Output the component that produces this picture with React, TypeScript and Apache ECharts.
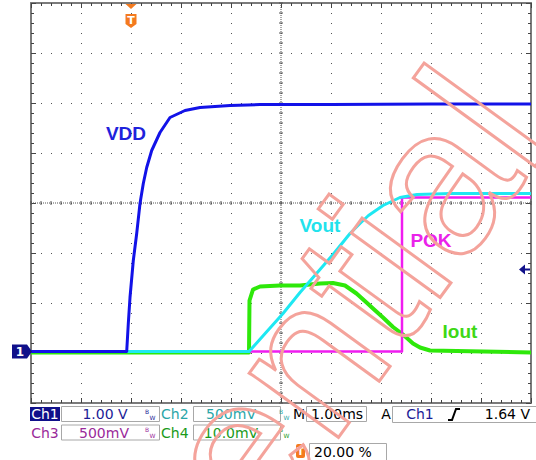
import React, { useEffect, useRef } from "react";
import * as echarts from "echarts";

// ---------- scope settings ----------
const TIME_MIN_MS = -2;
const TIME_MAX_MS = 8;
const TIME_DIV_MS = 1;
const VERT_DIVS = 8;
const GROUND_DIV = 1.03; // ground reference (divisions above bottom edge)
const CH1_SCALE = 1; // V/div
const CH2_SCALE = 0.5; // V/div
const CH3_SCALE = 0.5; // V/div
const CH4_SCALE = 10; // mV/div
const TRIG_LEVEL_V = 1.64;

// ---------- Ch1 : VDD (V) ----------
const vddTime = [-2, -0.086, -0.054, -0.02, 0.046, 0.114, 0.18, 0.246, 0.314, 0.414, 0.58, 0.78, 1.08, 1.38, 1.98, 2.58, 4, 6, 8];
const vddVolt = [0, 0, 0.56, 1.08, 1.82, 2.36, 2.96, 3.36, 3.68, 4.02, 4.38, 4.68, 4.82, 4.88, 4.92, 4.94, 4.94, 4.95, 4.95];

// ---------- Ch2 : Vout (V) ----------
const voutTime = [-2, 2.36, 2.7, 3.04, 3.38, 3.71, 4.04, 4.38, 4.6, 4.75, 5.04, 5.38, 5.72, 6.4, 8];
const voutVolt = [0, 0, 0.19, 0.38, 0.59, 0.78, 0.97, 1.18, 1.29, 1.36, 1.46, 1.54, 1.57, 1.58, 1.58];

// ---------- Ch3 : POK (V) ----------
const pokTime = [-2, 5.42, 5.42, 8];
const pokVolt = [0, 0, 1.54, 1.54];

// ---------- Ch4 : Iout (mV) ----------
const ioutTime = [-2, 2.36, 2.37, 2.44, 2.58, 2.98, 3.38, 3.78, 4.04, 4.28, 4.51, 4.71, 4.84, 5.04, 5.24, 5.44, 5.64, 5.78, 5.98, 8];
const ioutMv = [-0.2, -0.2, 10.2, 12.4, 13.0, 13.2, 13.2, 13.6, 13.7, 13.2, 11.6, 9.8, 8.6, 6.8, 4.9, 3.4, 1.6, 0.8, 0.2, -0.2];

// ---------- trace labels (time ms, value in channel units) ----------
const traceLabels = ["VDD", "Vout", "POK", "Iout"];
const labelTime = [-0.1, 3.78, 6.0, 6.58];
const labelValue = [4.37, 1.265, 1.115, 4.1];

// ---------- readout texts ----------
const chNames = ["Ch1", "Ch2", "Ch3", "Ch4"];
const chScaleText = ["1.00 V", "500mV", "500mV", "10.0mV"];
const timebaseText = "1.00ms";
const trigSourceText = "Ch1";
const trigLevelText = "1.64 V";
const trigPosText = "20.00 %";
const watermarkText = "Confidential";

const traceColors = ["#1212e8", "#1ee8f2", "#f01cf0", "#2ee80a"];
const labelColors = ["#1e22dc", "#22e2ec", "#ea22ea", "#3ed816"];
const infoColors = ["#1c1c96", "#2aa6a8", "#9a2a9a", "#1a9a1a"];
const NAVY = "#10108a";
const ORANGE = "#f47a1e";
const BOX = "#a8a8a8";

export default function App() {
  const ref = useRef<HTMLDivElement>(null);

  useEffect(() => {
    const el = ref.current;
    if (!el) return;
    const chart = echarts.init(el, null, { renderer: "svg" });

    const scales = [CH1_SCALE, CH2_SCALE, CH3_SCALE, CH4_SCALE];
    const toDiv = (v: number, s: number) => GROUND_DIV + v / s;
    const pts = (ts: number[], vs: number[], s: number) => ts.map((t, i) => [t, toDiv(vs[i], s)]);

    const traces = [
      { t: vddTime, v: vddVolt, ch: 0, width: 3, z: 6 },
      { t: voutTime, v: voutVolt, ch: 1, width: 3, z: 5 },
      { t: pokTime, v: pokVolt, ch: 2, width: 2.5, z: 4 },
      { t: ioutTime, v: ioutMv, ch: 3, width: 4, z: 3 },
    ];

    const axisBase: any = {
      type: "value",
      axisLabel: { show: false },
      axisLine: { show: true, onZero: false, lineStyle: { color: "#7a7a7a", width: 2 } },
      axisTick: { show: true, inside: true, length: 5, lineStyle: { color: "#444", width: 1 } },
      minorTick: { show: true, splitNumber: 5, length: 3, lineStyle: { color: "#444", width: 1 } },
      splitLine: { show: false },
    };
    const dotGrid = { show: true, lineStyle: { type: [1, 9], color: "#555", width: 1 } };

    chart.setOption({
      animation: false,
      backgroundColor: "#ffffff",
      grid: { left: 31, top: 3, width: 500, height: 400 },
      xAxis: [
        { ...axisBase, min: TIME_MIN_MS, max: TIME_MAX_MS, interval: TIME_DIV_MS, position: "bottom", splitLine: dotGrid },
        { ...axisBase, min: TIME_MIN_MS, max: TIME_MAX_MS, interval: TIME_DIV_MS, position: "top" },
      ],
      yAxis: [
        { ...axisBase, min: 0, max: VERT_DIVS, interval: 1, position: "left", splitLine: dotGrid },
        { ...axisBase, min: 0, max: VERT_DIVS, interval: 1, position: "right" },
      ],
      series: traces.map((tr) => {
        const li = tr.ch;
        return {
          type: "line",
          xAxisIndex: 0,
          yAxisIndex: 0,
          data: pts(tr.t, tr.v, scales[tr.ch]),
          showSymbol: false,
          symbol: "none",
          silent: true,
          z: tr.z,
          lineStyle: { color: traceColors[tr.ch], width: tr.width, join: "round" },
          markPoint: {
            symbol: "circle",
            symbolSize: 1,
            itemStyle: { color: "transparent" },
            silent: true,
            data: [{ coord: [labelTime[li], toDiv(labelValue[li], scales[li])] }],
            label: {
              show: true,
              position: "inside",
              formatter: traceLabels[li],
              color: labelColors[li],
              fontSize: 19,
              fontWeight: "bold",
              fontFamily: "Liberation Sans",
            },
          },
        };
      }),
    });

    const P = (t: number, d: number) =>
      chart.convertToPixel({ xAxisIndex: 0, yAxisIndex: 0 }, [t, d]) as number[];
    const [gx0, gyTop] = P(TIME_MIN_MS, VERT_DIVS);
    const [gx1, gyBot] = P(TIME_MAX_MS, 0);
    const [cx, cy] = P((TIME_MIN_MS + TIME_MAX_MS) / 2, VERT_DIVS / 2);

    const g: any[] = [];
    const line = (x1: number, y1: number, x2: number, y2: number, stroke: string, lw = 1, z = 1, dash?: number[]) =>
      g.push({ type: "line", silent: true, z, shape: { x1, y1, x2, y2 }, style: { stroke, lineWidth: lw, lineDash: dash } });
    const text = (t: string, x: number, y: number, fill: string, size = 14, align = "center", weight = "normal", family = "DejaVu Sans", z = 10) =>
      g.push({
        type: "text", silent: true, z, x, y,
        style: { text: t, fill, fontSize: size, fontFamily: family, fontWeight: weight, textAlign: align, textVerticalAlign: "middle" },
      });
    const rect = (x: number, y: number, w: number, h: number, fill: string, stroke?: string, r = 0, z = 9) =>
      g.push({ type: "rect", silent: true, z, shape: { x, y, width: w, height: h, r }, style: { fill, stroke, lineWidth: 1 } });

    // centre graticule lines with ticks
    line(gx0, cy, gx1, cy, "#555", 1, 1, [1, 1]);
    line(cx, gyTop, cx, gyBot, "#555", 1, 1, [1, 1]);
    for (let x = gx0; x <= gx1 + 0.1; x += 10) line(x, cy - 2, x, cy + 2, "#555");
    for (let y = gyTop; y <= gyBot + 0.1; y += 10) line(cx - 2, y, cx + 2, y, "#555");

    // ground marker (Ch1)
    const [, gndY] = P(TIME_MIN_MS, GROUND_DIV);
    g.push({
      type: "polygon", silent: true, z: 12,
      shape: { points: [[gx0 - 19, gndY - 7], [gx0 - 4, gndY - 7], [gx0 + 1, gndY], [gx0 - 4, gndY + 7], [gx0 - 19, gndY + 7]] },
      style: { fill: NAVY },
    });
    text("1", gx0 - 11, gndY, "#ffffff", 12, "center", "bold", "DejaVu Sans", 13);

    // trigger position marker
    const [tx] = P(0, VERT_DIVS);
    g.push({
      type: "polygon", silent: true, z: 12,
      shape: { points: [[tx - 5.5, gyTop + 1], [tx + 5.5, gyTop + 1], [tx, gyTop + 6]] },
      style: { fill: ORANGE },
    });
    g.push({
      type: "polygon", silent: true, z: 12,
      shape: { points: [[tx - 5.5, gyTop + 11], [tx + 5.5, gyTop + 11], [tx + 5.5, gyTop + 21], [tx, gyTop + 25], [tx - 5.5, gyTop + 21]] },
      style: { fill: ORANGE },
    });
    text("T", tx, gyTop + 17.5, "#ffffff", 11, "center", "bold", "DejaVu Sans", 13);

    // trigger level arrow
    const [, tly] = P(TIME_MAX_MS, toDiv(TRIG_LEVEL_V, CH1_SCALE));
    g.push({
      type: "polygon", silent: true, z: 12,
      shape: { points: [[gx1 - 12, tly], [gx1 - 6, tly - 5], [gx1 - 6, tly + 5]] },
      style: { fill: NAVY },
    });
    line(gx1 - 7, tly, gx1 - 1, tly, NAVY, 2, 12);

    // ---- readout area ----
    const rowY = [414, 432.5];
    const bw = (x: number, y: number, c: string) => {
      text("B", x - 1, y - 3, c, 6, "right", "normal", "DejaVu Sans");
      text("W", x - 0.5, y + 3, c, 6, "left", "normal", "DejaVu Sans");
    };
    // Ch1 / Ch3 column
    rect(30, 407, 30, 14, NAVY);
    text(chNames[0], 45, rowY[0], "#ffffff");
    rect(61.5, 406.5, 98, 15, "#ffffff", BOX);
    text(chScaleText[0], 105, rowY[0], infoColors[0]);
    bw(150, rowY[0], infoColors[0]);
    text(chNames[2], 45, rowY[1], infoColors[2]);
    rect(61.5, 425, 98, 15, "#ffffff", BOX);
    text(chScaleText[2], 104, rowY[1], infoColors[2]);
    bw(150, rowY[1], infoColors[2]);
    // Ch2 / Ch4 column
    text(chNames[1], 161, rowY[0], infoColors[1], 14, "left");
    rect(193.5, 406.5, 87, 15, "#ffffff", BOX);
    text(chScaleText[1], 231, rowY[0], infoColors[1]);
    bw(284, rowY[0], infoColors[1]);
    text(chNames[3], 161, rowY[1], infoColors[3], 14, "left");
    rect(193.5, 425, 87, 15, "#ffffff", BOX);
    text(chScaleText[3], 231, rowY[1], infoColors[3]);
    bw(284, rowY[1], infoColors[3]);
    // time base
    text("M", 299, rowY[0], "#000000");
    rect(306.5, 406.5, 60, 15, "#ffffff", BOX);
    text(timebaseText, 337, rowY[0], "#000000");
    // trigger
    text("A", 386, rowY[0], "#000000");
    rect(392.5, 406.5, 150, 16, "#ffffff", BOX);
    text(trigSourceText, 420, rowY[0], infoColors[0]);
    g.push({
      type: "polyline", silent: true, z: 11,
      shape: { points: [[448, 420], [452, 420], [456, 409], [460, 409]] },
      style: { stroke: "#000000", lineWidth: 2, fill: "none" },
    });
    text(trigLevelText, 530, rowY[0], "#000000", 14, "right");
    // trigger position
    rect(296, 444, 9, 14, ORANGE, undefined, 2);
    text("T", 300.5, 451, "#ffffff", 10, "center", "bold");
    rect(309.5, 443.5, 77, 17, "#ffffff", BOX);
    text(trigPosText, 314, 452, "#000000", 14, "left");

    // watermark
    g.push({
      type: "text", silent: true, z: 100,
      x: 496, y: 98, rotation: (54 * Math.PI) / 180,
      style: {
        text: watermarkText, fontSize: 208, fontFamily: "Liberation Sans",
        fill: "none", stroke: "#f4a39b", lineWidth: 3,
        textAlign: "right", textVerticalAlign: "middle",
      },
    });

    chart.setOption({ graphic: g });
    return () => chart.dispose();
  }, []);

  return <div ref={ref} style={{ position: "absolute", left: 0, top: 0, width: 536, height: 460 }} />;
}
